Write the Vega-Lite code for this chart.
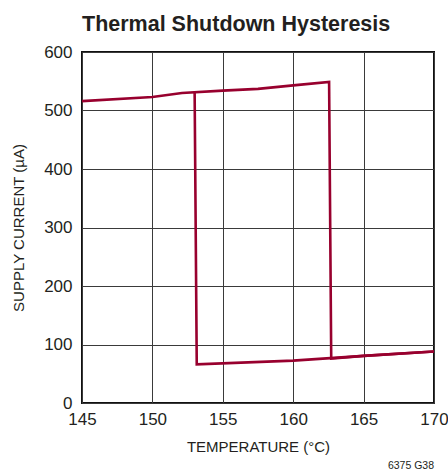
{
  "$schema": "https://vega.github.io/schema/vega-lite/v6.json",
  "width": 352,
  "height": 351,
  "autosize": {"type": "none"},
  "padding": {"left": 82, "top": 52, "right": 14, "bottom": 70},
  "background": "white",
  "title": {
    "text": "Thermal Shutdown Hysteresis",
    "font": "Liberation Sans",
    "fontWeight": "bold",
    "fontSize": 21.5,
    "color": "#231f20",
    "anchor": "start",
    "frame": "group",
    "baseline": "alphabetic",
    "offset": -9
  },
  "config": {
    "view": {"stroke": "#111", "strokeWidth": 2},
    "axis": {
      "labelFont": "Liberation Sans",
      "labelFontSize": 17,
      "labelColor": "#231f20",
      "labelFlush": false,
      "titleFont": "Liberation Sans",
      "titleFontSize": 15,
      "titleFontWeight": "normal",
      "titleColor": "#231f20",
      "ticks": false,
      "domain": false,
      "gridColor": "#3a3a3a",
      "gridWidth": 1,
      "gridOpacity": 1
    }
  },
  "datasets": {
    "curve": [
      {"branch": "heating", "step": 1, "temp": 145, "current": 516},
      {"branch": "heating", "step": 2, "temp": 150, "current": 523},
      {"branch": "heating", "step": 3, "temp": 152.1, "current": 530},
      {"branch": "heating", "step": 4, "temp": 155, "current": 534},
      {"branch": "heating", "step": 5, "temp": 157.5, "current": 537},
      {"branch": "heating", "step": 6, "temp": 160, "current": 543},
      {"branch": "heating", "step": 7, "temp": 162.55, "current": 549},
      {"branch": "heating", "step": 8, "temp": 162.7, "current": 76},
      {"branch": "heating", "step": 9, "temp": 165, "current": 80.5},
      {"branch": "heating", "step": 10, "temp": 170, "current": 88},
      {"branch": "cooling", "step": 1, "temp": 170, "current": 88},
      {"branch": "cooling", "step": 2, "temp": 165, "current": 80.5},
      {"branch": "cooling", "step": 3, "temp": 160, "current": 72.5},
      {"branch": "cooling", "step": 4, "temp": 153.15, "current": 66},
      {"branch": "cooling", "step": 5, "temp": 153.0, "current": 530}
    ]
  },
  "layer": [
    {
      "data": {"name": "curve"},
      "mark": {"type": "line", "color": "#98002e", "strokeWidth": 2.6, "strokeJoin": "miter", "clip": true},
      "encoding": {
        "x": {
          "field": "temp",
          "type": "quantitative",
          "scale": {"domain": [145, 170], "nice": false, "zero": false},
          "axis": {"values": [145, 150, 155, 160, 165, 170], "labelPadding": 8, "title": "TEMPERATURE  (°C)", "titlePadding": 12}
        },
        "y": {
          "field": "current",
          "type": "quantitative",
          "scale": {"domain": [0, 600], "nice": false},
          "axis": {"values": [0, 100, 200, 300, 400, 500, 600], "labelPadding": 10, "title": "SUPPLY CURRENT (µA)", "titlePadding": 17}
        },
        "detail": {"field": "branch"},
        "order": {"field": "step", "type": "quantitative"}
      }
    },
    {
      "data": {"values": [{"note": "6375 G38", "temp": 170, "current": 0}]},
      "mark": {"type": "text", "font": "Liberation Sans", "fontSize": 10.5, "color": "#231f20", "align": "right", "baseline": "alphabetic", "dy": 66},
      "encoding": {
        "x": {"field": "temp", "type": "quantitative"},
        "y": {"field": "current", "type": "quantitative"},
        "text": {"field": "note"}
      }
    }
  ]
}
